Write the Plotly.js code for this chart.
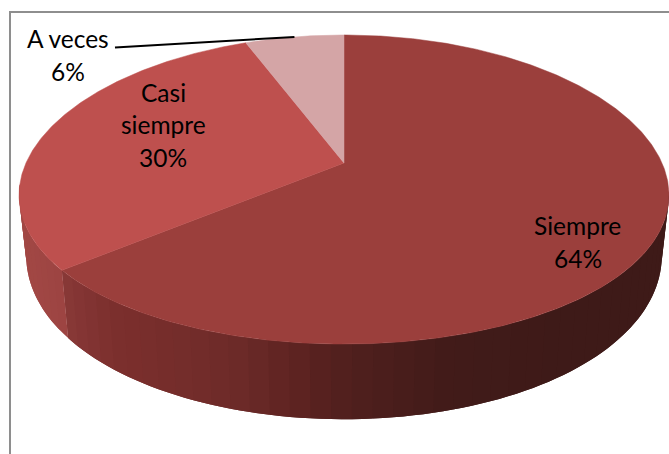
<!DOCTYPE html>
<html>
<head>
<meta charset="utf-8">
<script src="https://cdn.plot.ly/plotly-3.0.1.min.js"></script>
<style>html,body{margin:0;padding:0;background:#fff}#chart{width:669px;height:454px}</style>
</head>
<body>
<div id="chart"></div>
<script>
// Survey answers, clockwise from twelve o'clock
const categories = ['Siempre', 'Casi siempre', 'A veces'];
const values = [64, 30, 6];
const faceColors = ['#9B3F3C', '#BE504E', '#D4A5A6'];
const labelLines = [['Siempre', '64%'], ['Casi', 'siempre', '30%'], ['A veces', '6%']];
const labelX = [577.5, 163, 68];
const labelY = [225.5, 92, 38.5];
const lineGap = 32.5;

// Tilted disc seen in perspective; the lower rim sits further from the camera
const apexX = 344, perspX = 0.206, perspY = 0.1716;
const upperRim = {ax: 318, by: 150, cy: 163};
const lowerRim = {ax: 311, by: 165, cy: 220};

function project(rim, deg) {
  const t = deg * Math.PI / 180, u = Math.sin(t), v = Math.cos(t);
  return [apexX + rim.ax * u / (1 + perspX * v), rim.cy - rim.by * v / (1 + perspY * v)];
}

// Wall shade depends on horizontal position and on which slice owns the wall
const wallStops = [
  [[60, [137, 57, 56]], [110, [124, 47, 45]], [230, [110, 43, 41]], [300, [93, 35, 33]], [340, [82, 32, 30]], [450, [65, 27, 25]], [560, [62, 26, 24]], [670, [62, 26, 24]]],
  [[15, [163, 72, 69]], [62, [156, 68, 66]]]
];
function wallColor(stops, x) {
  if (x <= stops[0][0]) return 'rgb(' + stops[0][1].join(',') + ')';
  for (let i = 1; i < stops.length; i++) {
    if (x <= stops[i][0]) {
      const f = (x - stops[i - 1][0]) / (stops[i][0] - stops[i - 1][0]);
      const c = stops[i - 1][1].map((a, k) => Math.round(a + (stops[i][1][k] - a) * f));
      return 'rgb(' + c.join(',') + ')';
    }
  }
  return 'rgb(' + stops[stops.length - 1][1].join(',') + ')';
}

const total = values.reduce((a, b) => a + b, 0);
const edges = [0];
values.forEach(v => edges.push(edges[edges.length - 1] + v / total * 360));

const traces = [];
const noHover = {hoverinfo: 'skip', showlegend: false};

// Front walls, as strips that overlap the next one so no seam shows between them
function addWall(from, to, stops) {
  const step = 3, n = Math.max(1, Math.round((to - from) / step)), d = (to - from) / n;
  for (let i = 0; i < n; i++) {
    const a = from + d * i, b = Math.min(to, a + d * 2);
    const xs = [], ys = [];
    for (let k = 0; k <= 4; k++) {
      const p = project(upperRim, a + (b - a) * k / 4);
      xs.push(p[0]); ys.push(p[1]);
    }
    for (let k = 4; k >= 0; k--) {
      const p = project(lowerRim, a + (b - a) * k / 4);
      xs.push(p[0]); ys.push(p[1]);
    }
    xs.push(xs[0]); ys.push(ys[0]);
    const col = wallColor(stops, project(upperRim, a + d / 2)[0]);
    traces.push(Object.assign({
      type: 'scatter', mode: 'none', fill: 'toself', fillcolor: col, x: xs, y: ys
    }, noHover));
  }
}
addWall(100, edges[1], wallStops[0]);
addWall(edges[1], 262, wallStops[1]);

// Top faces
values.forEach((v, i) => {
  const xs = [apexX], ys = [upperRim.cy], n = Math.ceil((edges[i + 1] - edges[i]) / 0.5);
  for (let k = 0; k <= n; k++) {
    const p = project(upperRim, edges[i] + (edges[i + 1] - edges[i]) * k / n);
    xs.push(p[0]); ys.push(p[1]);
  }
  xs.push(apexX); ys.push(upperRim.cy);
  traces.push(Object.assign({
    type: 'scatter', mode: 'lines', fill: 'toself', fillcolor: faceColors[i],
    name: categories[i], x: xs, y: ys, line: {color: faceColors[i], width: 0.5}
  }, noHover));
});

// Leader from the small slice's rim to its label
const leaderEnd = project(upperRim, (edges[2] + edges[3]) / 2);
traces.push(Object.assign({
  type: 'scatter', mode: 'lines', x: [115, leaderEnd[0]], y: [47.5, leaderEnd[1]],
  line: {color: '#000', width: 2}
}, noHover));

// Each label line is placed on its own to keep the line spacing
const annotations = [];
labelLines.forEach((lines, i) => lines.forEach((text, k) => annotations.push({
  x: labelX[i], y: labelY[i] + k * lineGap, xref: 'x', yref: 'y', text: text,
  showarrow: false, xanchor: 'center', yanchor: 'middle',
  font: {family: 'Lato, Carlito, sans-serif', size: 24.5, color: '#000'}
})));

const hidden = {visible: false, fixedrange: true};
const layout = {
  width: 669, height: 454, margin: {l: 0, r: 0, t: 0, b: 0},
  paper_bgcolor: '#fff', plot_bgcolor: '#fff', showlegend: false,
  xaxis: Object.assign({range: [0, 669]}, hidden),
  yaxis: Object.assign({range: [454, 0]}, hidden),
  annotations: annotations,
  // Chart-area border, running off the right and bottom of the page
  shapes: [{
    type: 'path', xref: 'x', yref: 'y', path: 'M 10 454 L 10 12 L 669 12',
    line: {color: '#8E8E8E', width: 2}, layer: 'below'
  }]
};
Plotly.newPlot('chart', traces, layout, {displayModeBar: false, staticPlot: true});
</script>
</body>
</html>
